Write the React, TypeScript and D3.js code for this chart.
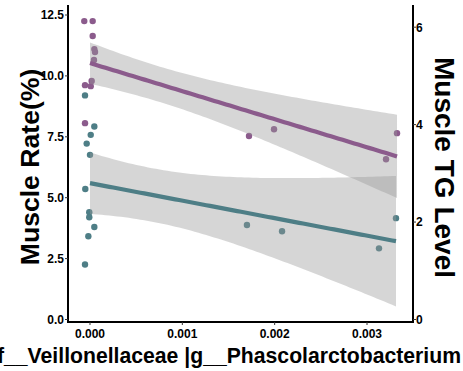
import React from "react";
import * as d3 from "d3";

// relative abundance of f__Veillonellaceae |g__Phascolarctobacterium (points drawn as read, slight jitter)
const rateX = [-0.000062, 0.000029, 0.000029, 0.000047, 0.000054, 0.000043, 0.000018, -0.000054, 0.000008, -0.000054, 0.001722, 0.001993, 0.003325, 0.003206];
const rateY = [12.25, 12.25, 11.64, 11.1, 10.98, 10.65, 9.79, 9.62, 9.58, 8.06, 7.53, 7.81, 7.65, 6.58];

const tgX = [-0.000054, 0.000047, 0.000008, -0.000036, 0.0, -0.000051, -0.000008, -0.000008, 0.000047, -0.000018, -0.000054, 0.0017, 0.00208, 0.00313, 0.003314];
const tgY = [4.6, 3.96, 3.79, 3.61, 3.38, 2.68, 2.2, 2.1, 1.9, 1.71, 1.13, 1.94, 1.81, 1.46, 2.08];

const xTicks = [0, 0.001, 0.002, 0.003];
const leftTicks = [0, 2.5, 5, 7.5, 10, 12.5];
const rightTicks = [0, 2, 4, 6];

const PURPLE = "#8b5b8c";
const TEAL = "#4e7e86";
const FONT = "'Liberation Sans', Arial, sans-serif";

// approx. t quantile (Cornish-Fisher) for 95% CI
function tCrit(df: number) {
  const z = 1.959964;
  const z3 = z ** 3, z5 = z ** 5, z7 = z ** 7;
  return z + (z3 + z) / (4 * df) + (5 * z5 + 16 * z3 + 3 * z) / (96 * df * df) +
    (3 * z7 + 19 * z5 + 17 * z3 - 15 * z) / (384 * df ** 3);
}

function lmFit(xs: number[], ys: number[]) {
  const n = xs.length;
  const mx = d3.mean(xs)!, my = d3.mean(ys)!;
  let sxx = 0, sxy = 0;
  xs.forEach((x, i) => { sxx += (x - mx) ** 2; sxy += (x - mx) * (ys[i] - my); });
  const b = sxy / sxx, a = my - b * mx;
  let sse = 0;
  xs.forEach((x, i) => { sse += (ys[i] - a - b * x) ** 2; });
  const s = Math.sqrt(sse / (n - 2));
  const t = tCrit(n - 2);
  const lo = Math.max(0, d3.min(xs)!), hi = d3.max(xs)!;
  return d3.range(80).map((i) => {
    const x = lo + ((hi - lo) * i) / 79;
    const y = a + b * x;
    const se = s * Math.sqrt(1 / n + (x - mx) ** 2 / sxx);
    return { x, y, lo: y - t * se, hi: y + t * se };
  });
}

export default function App() {
  const left = 68, right = 413, top = 5, bottom = 322;
  const x = d3.scaleLinear().domain([0, 0.003]).range([90, 367]);
  const yL = d3.scaleLinear().domain([0, 12.5]).range([319.5, 15]);
  const yR = d3.scaleLinear().domain([0, 6.25]).range([319.5, 15]);

  const fitRate = lmFit(rateX, rateY);
  const fitTg = lmFit(tgX, tgY);

  const band = (sc: d3.ScaleLinear<number, number>) =>
    d3.area<{ x: number; lo: number; hi: number }>()
      .x((d) => x(d.x)).y0((d) => sc(d.lo)).y1((d) => sc(d.hi));
  const line = (sc: d3.ScaleLinear<number, number>) =>
    d3.line<{ x: number; y: number }>().x((d) => x(d.x)).y((d) => sc(d.y));

  return (
    <svg width={463} height={371} style={{ position: "absolute", left: 0, top: 0, background: "#fff" }}>
      {/* points */}
      {rateX.map((v, i) => (
        <circle key={"r" + i} cx={x(v)} cy={yL(rateY[i])} r={3.2} fill={PURPLE} />
      ))}
      {tgX.map((v, i) => (
        <circle key={"t" + i} cx={x(v)} cy={yR(tgY[i])} r={3.2} fill={TEAL} />
      ))}
      {/* confidence ribbons */}
      <path d={band(yL)(fitRate) ?? ""} fill="#999999" fillOpacity={0.4} />
      <path d={band(yR)(fitTg) ?? ""} fill="#999999" fillOpacity={0.4} />
      {/* fitted lines */}
      <path d={line(yL)(fitRate) ?? ""} fill="none" stroke={PURPLE} strokeWidth={4.2} />
      <path d={line(yR)(fitTg) ?? ""} fill="none" stroke={TEAL} strokeWidth={4.2} />

      {/* axes */}
      <g stroke="#000" strokeWidth={2} fill="none">
        <path d={`M${left},${top}V${bottom}H${right}V${top}`} />
      </g>
      <g fontFamily={FONT} fontWeight="bold" fontSize={12} fill="#000">
        {leftTicks.map((t) => (
          <g key={"l" + t}>
            <line x1={left - 3} x2={left} y1={yL(t)} y2={yL(t)} stroke="#333" strokeWidth={1} />
            <text x={left - 4} y={yL(t)} dy="0.36em" textAnchor="end">{t.toFixed(1)}</text>
          </g>
        ))}
        {rightTicks.map((t) => (
          <g key={"r" + t}>
            <line x1={right} x2={right + 3} y1={yR(t)} y2={yR(t)} stroke="#333" strokeWidth={1} />
            <text x={right + 3} y={yR(t)} dy="0.36em">{t}</text>
          </g>
        ))}
        {xTicks.map((t) => (
          <g key={"x" + t}>
            <line x1={x(t)} x2={x(t)} y1={bottom} y2={bottom + 3} stroke="#333" strokeWidth={1} />
            <text x={x(t)} y={338} textAnchor="middle">{t.toFixed(3)}</text>
          </g>
        ))}
      </g>

      {/* titles */}
      <g fontFamily={FONT} fontWeight="bold" fill="#000">
        <text transform="translate(39,167) rotate(-90)" textAnchor="middle" fontSize={26.6}>
          Muscle Rate(%)
        </text>
        <text transform="translate(435,167.5) rotate(90)" textAnchor="middle" fontSize={28}>
          Muscle TG Level
        </text>
        <text x={-3} y={363} fontSize={21.2}>
          f__Veillonellaceae |g__Phascolarctobacterium
        </text>
      </g>
    </svg>
  );
}
